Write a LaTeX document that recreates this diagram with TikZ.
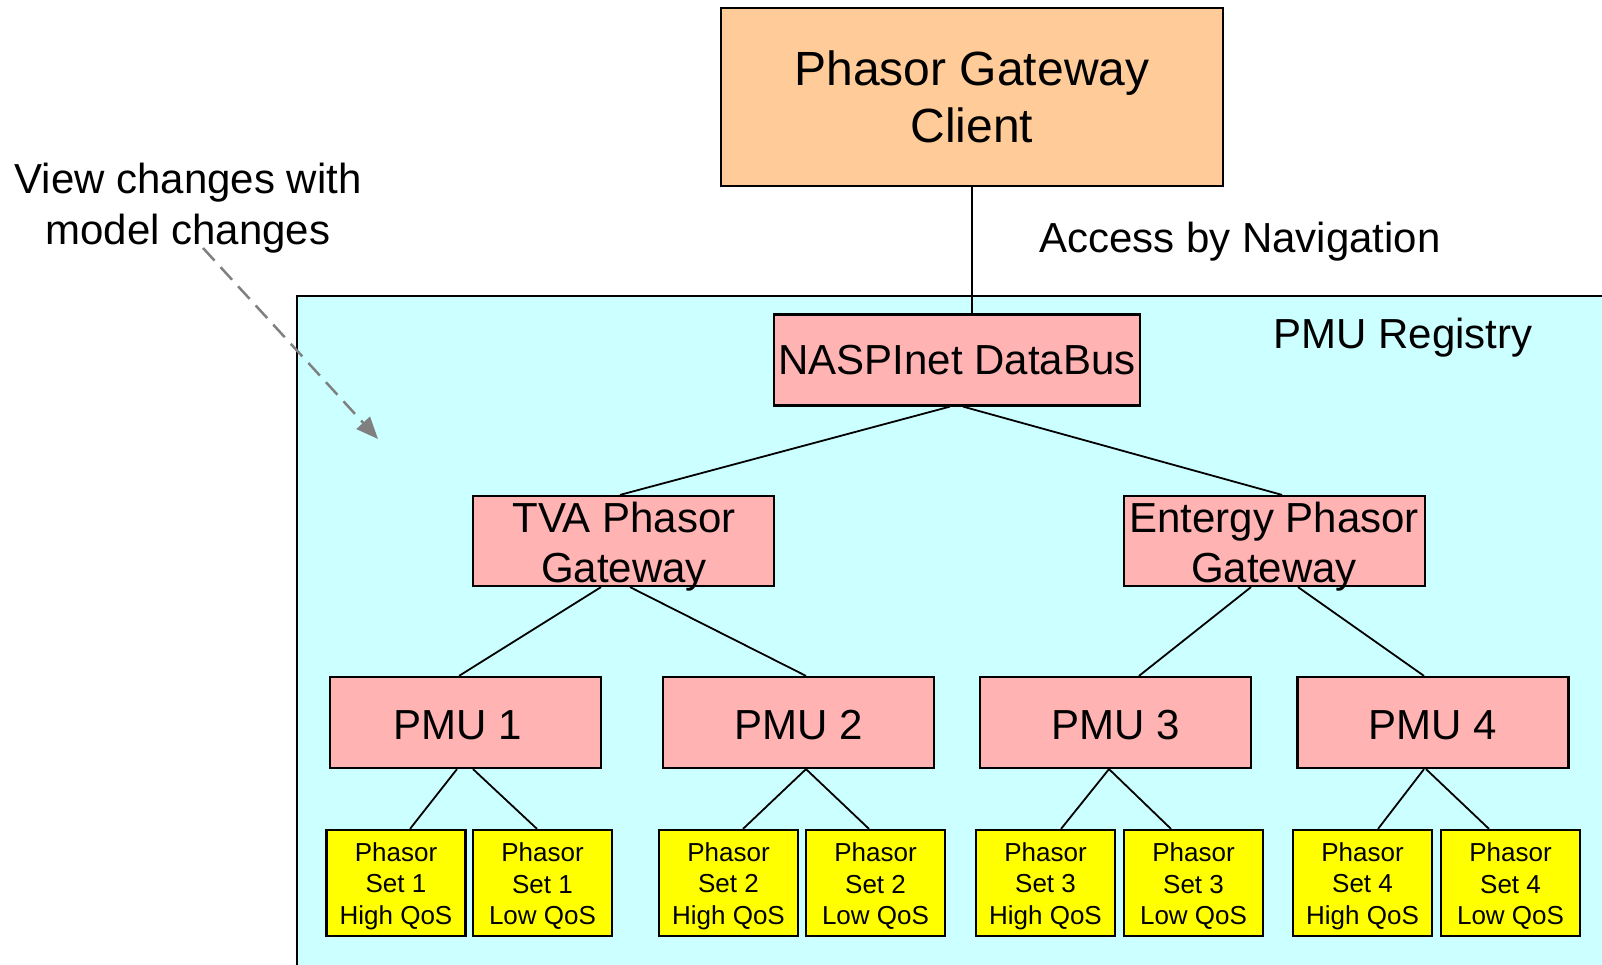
\documentclass[tikz,border=0pt]{standalone}
\usepackage{fontspec}
\setmainfont{Liberation Sans}
\usetikzlibrary{arrows.meta}
\definecolor{clientc}{HTML}{FFCC99}
\definecolor{pinkc}{HTML}{FFB3B3}
\definecolor{regc}{HTML}{CCFFFF}
\definecolor{setc}{HTML}{FFFF00}
\definecolor{arrc}{HTML}{808080}
\newcommand{\setstrut}{\rule{0pt}{25pt}}
\newcommand{\pmustrut}{\rule{0pt}{34pt}}
\begin{document}
\begin{tikzpicture}[x=1pt,y=-1pt,
  box/.style={draw=black,line width=2.2pt,inner sep=0pt,align=center},
  clientbox/.style={box,fill=clientc,minimum width=502pt,minimum height=178pt,font=\fontsize{48}{57.6}\selectfont},
  pinkbox/.style={box,fill=pinkc,minimum height=91pt,font=\fontsize{42}{50}\selectfont},
  setbox/.style={box,fill=setc,minimum width=139pt,minimum height=106pt,font=\fontsize{26}{31.5}\selectfont},
  lbl/.style={inner sep=0pt,align=center,font=\fontsize{42}{51}\selectfont},
  conn/.style={draw=black,line width=1.8pt},
]
\clip (0,0) rectangle (1602,965);
\fill[white] (0,0) rectangle (1602,965);
% registry region
\draw[fill=regc,line width=2pt] (297,296) rectangle (1630,990);

% nodes
\node[clientbox] (client) at (972,97) {Phasor Gateway\\Client};
\node[pinkbox,minimum width=366pt] (nasp) at (957,360) {NASPInet DataBus};
\node[pinkbox,minimum width=301pt,minimum height=90pt] (tva) at (623.5,541) {};
\node[lbl,font=\fontsize{42}{50}\selectfont] (tvat) at (624,546.5) {TVA Phasor\\Gateway};
\node[pinkbox,minimum width=301pt,minimum height=90pt] (ent) at (1274.5,541) {};
\node[lbl,font=\fontsize{42}{50}\selectfont] (entt) at (1274,546.5) {Entergy Phasor\\Gateway};

\node[pinkbox,minimum width=271pt] (pmu1) at (465.5,722.5) {\pmustrut PMU 1\hspace*{15pt}};
\node[pinkbox,minimum width=271pt] (pmu2) at (798.5,722.5) {\pmustrut PMU 2};
\node[pinkbox,minimum width=271pt] (pmu3) at (1115.5,722.5) {\pmustrut PMU 3};
\node[pinkbox,minimum width=271pt] (pmu4) at (1433,722.5) {\pmustrut PMU 4};

\node[setbox] (s1h) at (396,883) {\setstrut Phasor\\Set 1\\High QoS};
\node[setbox] (s1l) at (542.5,883) {\setstrut Phasor\\Set 1\\Low QoS};
\node[setbox] (s2h) at (728.5,883) {\setstrut Phasor\\Set 2\\High QoS};
\node[setbox] (s2l) at (875.5,883) {\setstrut Phasor\\Set 2\\Low QoS};
\node[setbox] (s3h) at (1045.5,883) {\setstrut Phasor\\Set 3\\High QoS};
\node[setbox] (s3l) at (1193.5,883) {\setstrut Phasor\\Set 3\\Low QoS};
\node[setbox] (s4h) at (1362.5,883) {\setstrut Phasor\\Set 4\\High QoS};
\node[setbox] (s4l) at (1510.5,883) {\setstrut Phasor\\Set 4\\Low QoS};

% labels
\node[lbl] (view) at (188,208.5) {View changes with\\model changes};
\node[lbl] (access) at (1240,242) {Access by Navigation};
\node[lbl] (reglbl) at (1403,338) {PMU Registry};

% connectors
\draw[conn] (client.south) -- (client.south |- nasp.north);
\draw[conn] ([xshift=-7pt]nasp.south) -- ([xshift=-3.5pt]tva.north);
\draw[conn] ([xshift=6pt]nasp.south) -- ([xshift=7.5pt]ent.north);
\draw[conn] ([xshift=-22.5pt]tva.south) -- ([xshift=-6.5pt]pmu1.north);
\draw[conn] ([xshift=6.5pt]tva.south) -- ([xshift=7.5pt]pmu2.north);
\draw[conn] ([xshift=-23.5pt]ent.south) -- ([xshift=23.5pt]pmu3.north);
\draw[conn] ([xshift=23.5pt]ent.south) -- ([xshift=-9pt]pmu4.north);

\draw[conn] ([xshift=-8.5pt]pmu1.south) -- ([xshift=14pt]s1h.north);
\draw[conn] ([xshift=7.5pt]pmu1.south) -- ([xshift=-5.5pt]s1l.north);
\draw[conn] ([xshift=7.5pt]pmu2.south) -- ([xshift=14.5pt]s2h.north);
\draw[conn] ([xshift=7.5pt]pmu2.south) -- ([xshift=-6.5pt]s2l.north);
\draw[conn] ([xshift=-6.5pt]pmu3.south) -- ([xshift=15.5pt]s3h.north);
\draw[conn] ([xshift=-6.5pt]pmu3.south) -- ([xshift=-22.5pt]s3l.north);
\draw[conn] ([xshift=-9pt]pmu4.south) -- ([xshift=15.5pt]s4h.north);
\draw[conn] ([xshift=-7pt]pmu4.south) -- ([xshift=-21.5pt]s4l.north);

% dashed arrow
\coordinate (ar0) at (203,248);
\coordinate (ar1) at (378,439);
\draw[arrc,line width=2.5pt,dash pattern=on 17pt off 9pt,-{Triangle[length=22pt,width=18pt]}] (ar0) -- (ar1);
\end{tikzpicture}
\end{document}
